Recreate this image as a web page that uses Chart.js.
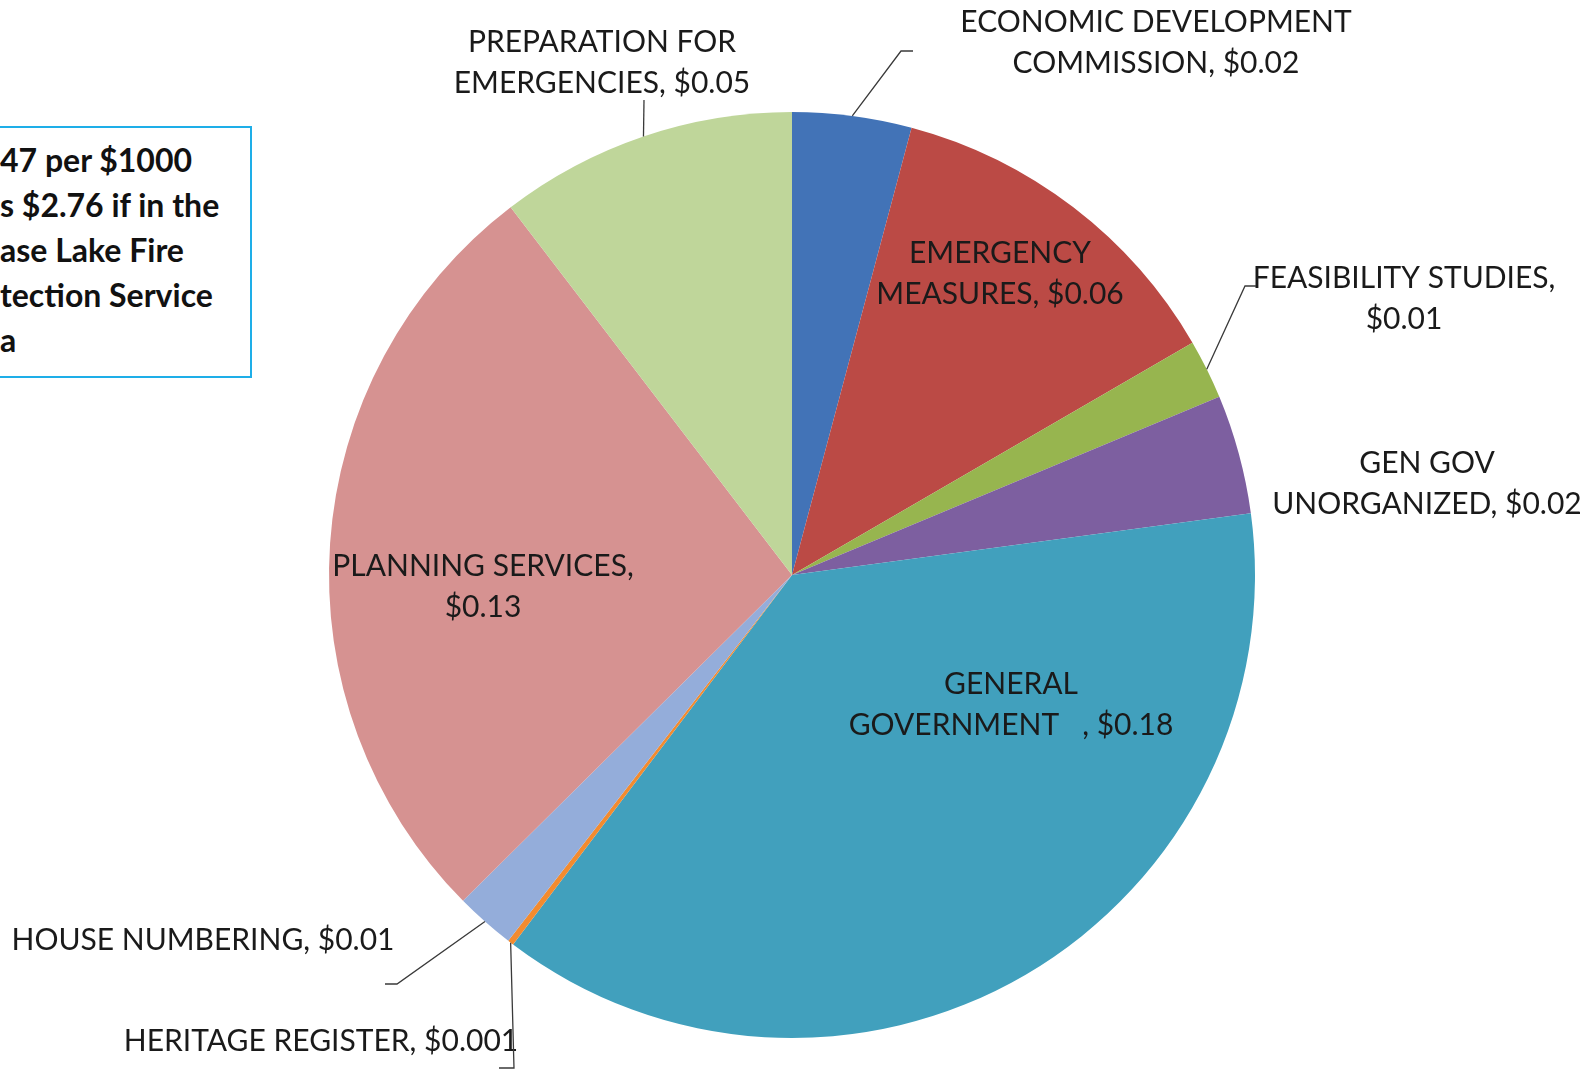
<!DOCTYPE html>
<html>
<head>
<meta charset="utf-8">
<script src="https://cdn.jsdelivr.net/npm/chart.js@4.4.1/dist/chart.umd.min.js"></script>
<style>
  html, body { margin: 0; padding: 0; background: #fff; overflow: hidden; }
  #wrap { position: relative; width: 1595px; height: 1074px; }
  #note {
    position: absolute; left: -22px; top: 126px; width: 274px; height: 252px;
    box-sizing: border-box; border: 2px solid #1eaee8; background: #fff;
    font-family: Lato, sans-serif; font-weight: bold; font-size: 32px;
    line-height: 45px; color: #111; padding-top: 9px; overflow: hidden;
  }
  #note div { padding-left: 20px; white-space: nowrap; }
</style>
</head>
<body>
<div id="wrap">
  <canvas id="pieChart" width="1595" height="1074"></canvas>
  <div id="note">
    <div>47 per $1000</div>
    <div>s $2.76 if in the</div>
    <div>ase Lake Fire</div>
    <div>tection Service</div>
    <div>a</div>
  </div>
</div>
<script>
// Coste por cada partida ($ por $1000 de tasación)
const categories = [
  'ECONOMIC DEVELOPMENT COMMISSION', 'EMERGENCY MEASURES', 'FEASIBILITY STUDIES',
  'GEN GOV UNORGANIZED', 'GENERAL GOVERNMENT', 'HERITAGE REGISTER',
  'HOUSE NUMBERING', 'PLANNING SERVICES', 'PREPARATION FOR EMERGENCIES'
];
const values = [0.02, 0.06, 0.01, 0.02, 0.18, 0.001, 0.01, 0.13, 0.05];

// Texto de cada etiqueta, {v} se sustituye por el valor
const labelLines = [
  ['ECONOMIC DEVELOPMENT', 'COMMISSION, {v}'],
  ['EMERGENCY', 'MEASURES, {v}'],
  ['FEASIBILITY STUDIES,', '{v}'],
  ['GEN GOV', 'UNORGANIZED, {v}'],
  ['GENERAL', 'GOVERNMENT   , {v}'],
  ['HERITAGE REGISTER, {v}'],
  ['HOUSE NUMBERING, {v}'],
  ['PLANNING SERVICES,', '{v}'],
  ['PREPARATION FOR', 'EMERGENCIES, {v}']
];

const colors = ['#4273b7', '#bb4a45', '#97b54f', '#7d5fa0', '#41a0bd', '#f38b2f', '#94adda', '#d69291', '#bfd69a'];

// Posición de cada etiqueta respecto al centro del círculo, y codo de la línea guía
const labelSpots = [
  { dx: 364, dy: -533, leader: [109, -524], tail: 121 },
  { dx: 208, dy: -302 },
  { dx: 612, dy: -277, leader: [453, -289], tail: 464 },
  { dx: 635, dy: -92 },
  { dx: 219, dy: 129 },
  { dx: -471, dy: 466, leader: [-278, 493], tail: -293 },
  { dx: -589, dy: 365, leader: [-395, 409], tail: -407 },
  { dx: -309, dy: 11 },
  { dx: -190, dy: -513, leader: [-148, -475] }
];

function money(v) {
  return '$' + v.toFixed(v < 0.01 ? 3 : 2);
}

// Dibuja las etiquetas y sus líneas guía
const sliceLabels = {
  id: 'sliceLabels',
  afterDatasetsDraw(chart) {
    const ctx = chart.ctx;
    const meta = chart.getDatasetMeta(0);
    ctx.save();
    ctx.font = '30px Lato';
    ctx.fillStyle = '#1a1a1a';
    ctx.strokeStyle = '#3a3a3a';
    ctx.lineWidth = 1.3;
    ctx.textAlign = 'center';
    ctx.textBaseline = 'alphabetic';
    meta.data.forEach((arc, i) => {
      const p = labelSpots[i];
      const cx = arc.x, cy = arc.y;
      const lines = labelLines[i].map(t => t.replace('{v}', money(values[i])));
      lines.forEach((ln, k) => {
        const y = cy + p.dy + (k - (lines.length - 1) / 2) * 41 + 10;
        ctx.fillText(ln, cx + p.dx, y);
      });
      if (p.leader) {
        const mid = (arc.startAngle + arc.endAngle) / 2;
        const sx = cx + Math.cos(mid) * arc.outerRadius;
        const sy = cy + Math.sin(mid) * arc.outerRadius;
        ctx.beginPath();
        ctx.moveTo(sx, sy);
        ctx.lineTo(cx + p.leader[0], cy + p.leader[1]);
        if (p.tail !== undefined) ctx.lineTo(cx + p.tail, cy + p.leader[1]);
        ctx.stroke();
      }
    });
    ctx.restore();
  }
};

new Chart(document.getElementById('pieChart'), {
  type: 'pie',
  data: {
    labels: categories,
    datasets: [{
      data: values,
      backgroundColor: colors,
      borderColor: colors,
      borderWidth: 0
    }]
  },
  options: {
    responsive: false,
    animation: false,
    layout: { padding: { left: 329, right: 340, top: 112, bottom: 36 } },
    plugins: { legend: { display: false }, tooltip: { enabled: false } }
  },
  plugins: [sliceLabels]
});
</script>
</body>
</html>
